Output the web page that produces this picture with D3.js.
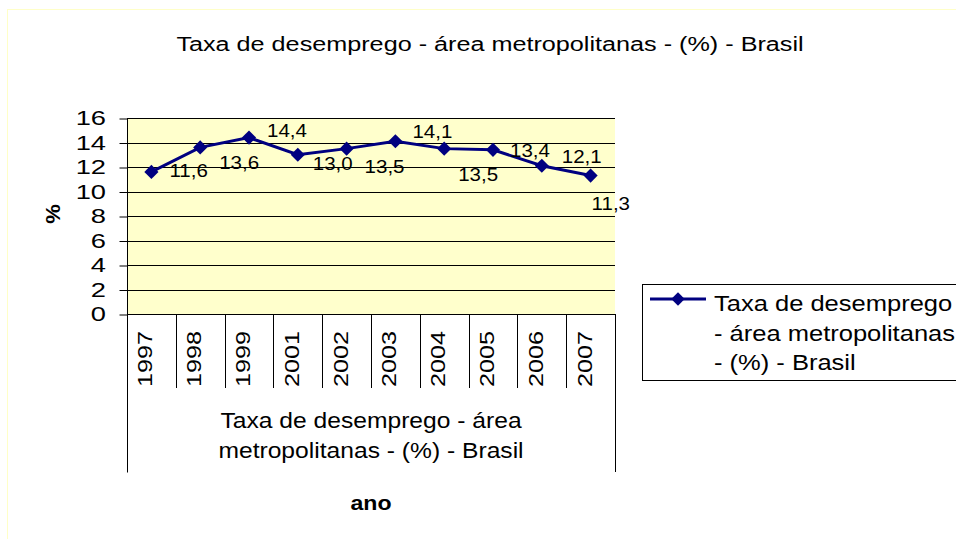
<!DOCTYPE html>
<html>
<head>
<meta charset="utf-8">
<script src="https://cdn.jsdelivr.net/npm/d3@7"></script>
<style>
  body { margin: 0; background: #fff; }
  svg { display: block; font-family: Arial, "Liberation Sans", sans-serif; }
</style>
</head>
<body>
<svg id="chart" width="956" height="539"></svg>
<script>
// chart data
const years = ['1997', '1998', '1999', '2001', '2002', '2003', '2004', '2005', '2006', '2007'];
const rates = [11.6, 13.6, 14.4, 13.0, 13.5, 14.1, 13.5, 13.4, 12.1, 11.3];
const yTicks = [0, 2, 4, 6, 8, 10, 12, 14, 16];
const seriesName = 'Taxa de desemprego - área metropolitanas - (%) - Brasil';
const groupLines = ['Taxa de desemprego - área', 'metropolitanas - (%) - Brasil'];
const legendLines = ['Taxa de desemprego', '- área metropolitanas', '- (%) - Brasil'];

// where excel dropped each value label, relative to its marker
const labelDx = [18, 19, 18, 15, 18, 17, 14, 17, 20, 1];
const labelDy = [5, 22, -1, 15, 24, -3, 32, 7, -3, 34];

const navy = '#000080';
const plot = { left: 127, right: 615, top: 118, bottom: 314 };

const svg = d3.select('#chart');

// text in the picture is rendered wider than Arial, so stretch it a little
function label(g, x, y, txt, size, sx, anchor, opts = {}) {
  let t = `translate(${x},${y})`;
  if (opts.rotate) t += ` rotate(${opts.rotate})`;
  t += ` scale(${sx},1)`;
  return g.append('text')
    .attr('transform', t)
    .attr('text-anchor', anchor || 'start')
    .attr('font-size', size)
    .attr('font-weight', opts.bold ? 'bold' : 'normal')
    .attr('dominant-baseline', opts.baseline || 'auto')
    .attr('fill', '#000')
    .text(txt);
}

// faint outer chart border
svg.append('rect')
  .attr('x', 7.5).attr('y', 9.5)
  .attr('width', 1000).attr('height', 1000)
  .attr('fill', 'none')
  .attr('stroke', '#ffffc8');

// title
label(svg, 490, 51, seriesName, 21, 1.2, 'middle');

var x = d3.scaleBand()
  .domain(years)
  .range([plot.left, plot.right]);

var y = d3.scaleLinear()
  .domain([0, 16])
  .range([plot.bottom, plot.top]);

// plot area
svg.append('rect')
  .attr('x', plot.left).attr('y', plot.top)
  .attr('width', plot.right - plot.left)
  .attr('height', plot.bottom - plot.top)
  .attr('fill', '#ffffcc');

// gridlines
svg.append('g')
  .selectAll('line')
  .data(yTicks.filter(d => d > 0))
  .enter().append('line')
  .attr('x1', plot.left).attr('x2', plot.right)
  .attr('y1', d => Math.round(y(d)) + 0.5)
  .attr('y2', d => Math.round(y(d)) + 0.5)
  .attr('stroke', '#000');

// y axis
var yAxis = d3.axisLeft(y).tickValues(yTicks).tickSize(8).tickFormat('');
var yg = svg.append('g')
  .attr('transform', `translate(${plot.left + 0.5},0.5)`)
  .call(yAxis);
yg.select('.domain').attr('d', `M0,${plot.top}V${plot.bottom + 158}`).attr('stroke', '#000');
yg.selectAll('.tick line').attr('stroke', '#000');

yTicks.forEach(d => {
  label(svg, 106, y(d), String(d), 21, 1.3, 'end', { baseline: 'central' });
});

// y axis title
label(svg, 60, 214, '%', 20, 1.1, 'middle', { rotate: -90, bold: true });

// x axis line and category boxes
svg.append('line')
  .attr('x1', plot.left).attr('x2', plot.right)
  .attr('y1', plot.bottom + 0.5).attr('y2', plot.bottom + 0.5)
  .attr('stroke', '#000');

var bounds = years.map(d => x(d)).concat([plot.right]);
svg.append('g')
  .selectAll('line')
  .data(bounds)
  .enter().append('line')
  .attr('x1', d => Math.round(d) + 0.5)
  .attr('x2', d => Math.round(d) + 0.5)
  .attr('y1', plot.bottom)
  .attr('y2', (d, i) => (i === 0 || i === bounds.length - 1) ? 472 : 388)
  .attr('stroke', '#000');

years.forEach(d => {
  label(svg, x(d) + x.bandwidth() / 2 + 1, 387, d, 21, 1.2, 'start', { rotate: -90 });
});

groupLines.forEach((t, i) => {
  label(svg, (plot.left + plot.right) / 2, 428 + i * 30, t, 22, 1.12, 'middle');
});

// x axis title
label(svg, 371, 510, 'ano', 21, 1.1, 'middle', { bold: true });

// the series
var line = d3.line()
  .x((d, i) => x(years[i]) + x.bandwidth() / 2)
  .y(d => y(d));

svg.append('path')
  .datum(rates)
  .attr('d', line)
  .attr('fill', 'none')
  .attr('stroke', navy)
  .attr('stroke-width', 3);

var diamond = d3.symbol(d3.symbolSquare, 100);
svg.append('g')
  .selectAll('path')
  .data(rates)
  .enter().append('path')
  .attr('d', diamond)
  .attr('transform', (d, i) => `translate(${x(years[i]) + x.bandwidth() / 2},${y(d)}) rotate(45)`)
  .attr('fill', navy);

rates.forEach((d, i) => {
  var cx = x(years[i]) + x.bandwidth() / 2;
  label(svg, cx + labelDx[i], y(d) + labelDy[i], d.toFixed(1).replace('.', ','), 19, 1.08, 'start');
});

// legend
var legend = svg.append('g');
legend.append('rect')
  .attr('x', 642.5).attr('y', 284.5)
  .attr('width', 330).attr('height', 96)
  .attr('fill', '#fff')
  .attr('stroke', '#000');
legend.append('line')
  .attr('x1', 650).attr('x2', 706)
  .attr('y1', 299).attr('y2', 299)
  .attr('stroke', navy).attr('stroke-width', 3);
legend.append('path')
  .attr('d', d3.symbol(d3.symbolSquare, 90))
  .attr('transform', 'translate(678,299) rotate(45)')
  .attr('fill', navy);
legendLines.forEach((t, i) => {
  label(legend, 714, 311 + i * 29.5, t, 22, 1.16, 'start');
});
</script>
</body>
</html>
